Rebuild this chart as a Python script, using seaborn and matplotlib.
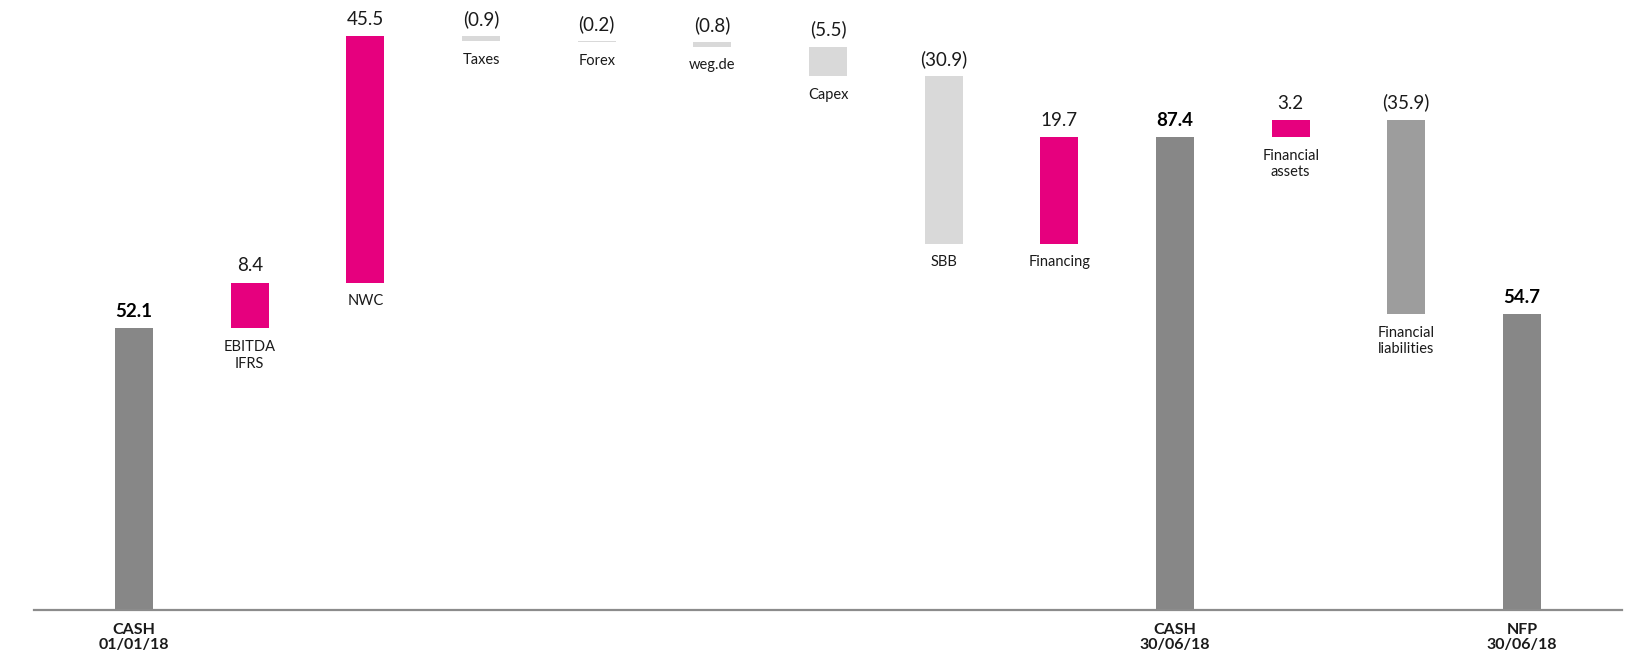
import matplotlib
matplotlib.use("Agg")
import matplotlib.pyplot as plt
import seaborn as sns
import numpy as np
import pandas as pd

# ---- data ----
categories = ["CASH\n01/01/18", "EBITDA\nIFRS", "NWC", "Taxes", "Forex", "weg.de", "Capex",
              "SBB", "Financing", "CASH\n30/06/18", "Financial\nassets", "Financial\nliabilities",
              "NFP\n30/06/18"]
values = [52.1, 8.4, 45.5, -0.9, -0.2, -0.8, -5.5, -30.9, 19.7, 87.4, 3.2, -35.9, 54.7]
kinds = ["total", "delta", "delta", "delta", "delta", "delta", "delta", "delta", "delta",
         "total", "delta", "delta", "total"]

# ---- waterfall geometry derived from data ----
bottoms, heights, tops = [], [], []
running = 0.0
for v, k in zip(values, kinds):
    if k == "total":
        running = v
        bottoms.append(0.0); heights.append(v); tops.append(v)
    else:
        start = running
        running = running + v
        bottoms.append(min(start, running)); heights.append(abs(v)); tops.append(max(start, running))

MAGENTA = "#E6007E"
TOTAL = "#878787"
NEG = "#D9D9D9"
NEG_DARK = "#9D9D9D"
colors = []
for c, v, k in zip(categories, values, kinds):
    if k == "total":
        colors.append(TOTAL)
    elif v > 0:
        colors.append(MAGENTA)
    elif c.startswith("Financial\nliab"):
        colors.append(NEG_DARK)
    else:
        colors.append(NEG)

df = pd.DataFrame({"cat": categories, "height": heights})

sns.set_theme(style="white")
plt.rcParams["font.family"] = ["Lato", "DejaVu Sans"]

fig = plt.figure(figsize=(16.27, 6.55), dpi=100)
ax = fig.add_axes([34 / 1627, 45 / 655, 1588 / 1627, 610 / 655])

sns.barplot(data=df, x="cat", y="height", ax=ax, width=0.33, color=TOTAL,
            errorbar=None, order=categories)
for p, b, col in zip(ax.patches, bottoms, colors):
    p.set_y(b)
    p.set_facecolor(col)
    p.set_edgecolor("none")

ax.set_xlim(-0.865, len(categories) - 1 + 0.865)
ax.set_ylim(0, 112.7)
ax.set_xlabel("")
ax.set_ylabel("")
ax.set_xticks([])
ax.set_yticks([])
for s in ["top", "right", "left"]:
    ax.spines[s].set_visible(False)
ax.spines["bottom"].set_color("#8C8C8C")
ax.spines["bottom"].set_linewidth(1.6)

txt = "#1A1A1A"
for i, (c, v, k) in enumerate(zip(categories, values, kinds)):
    label = f"{v:.1f}" if v >= 0 else f"({abs(v):.1f})"
    if k == "total":
        ax.annotate(label, (i, tops[i]), xytext=(0, 8), textcoords="offset points",
                    ha="center", va="baseline", fontsize=13.5, fontweight="bold", color="black")
        ax.annotate(c, (i, 0), xytext=(0, -9), textcoords="offset points",
                    ha="center", va="top", fontsize=11.5, fontweight="bold", color=txt,
                    linespacing=1.15)
    else:
        ax.annotate(label, (i, tops[i]), xytext=(0, 8), textcoords="offset points",
                    ha="center", va="baseline", fontsize=13.5, color=txt)
        ax.annotate(c, (i, bottoms[i]), xytext=(0, -8.5), textcoords="offset points",
                    ha="center", va="top", fontsize=10.5, color=txt, linespacing=1.25)

fig.savefig("out.png", dpi=100)
